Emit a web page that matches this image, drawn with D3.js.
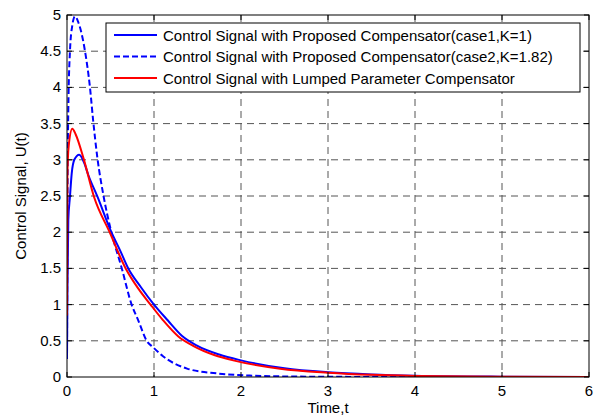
<!DOCTYPE html>
<html>
<head>
<meta charset="utf-8">
<script src="https://cdn.jsdelivr.net/npm/d3@7"></script>
<style>
  body { margin: 0; background: #fff; }
  svg { display: block; font-family: Arial, "Liberation Sans", sans-serif; }
</style>
</head>
<body>
<div id="chart"></div>
<script>

// ---- data ----
var xTicks = [0, 1, 2, 3, 4, 5, 6];
var yTicks = [0, 0.5, 1, 1.5, 2, 2.5, 3, 3.5, 4, 4.5, 5];

var case1Time  = [0, 0.005, 0.015, 0.034, 0.054, 0.084, 0.14, 0.2, 0.245, 0.35, 0.51, 0.61, 0.7, 0.85, 1.0, 1.16, 1.32, 1.5, 1.75, 2.0, 2.5, 3.0, 3.5, 4.0, 5.0, 6.0];
var case1Value = [0.25, 1.2, 2.17, 2.49, 2.81, 3.0, 3.07, 2.95, 2.79, 2.49, 2.0, 1.75, 1.51, 1.24, 1.0, 0.78, 0.57, 0.43, 0.31, 0.23, 0.12, 0.065, 0.035, 0.018, 0.005, 0.001];

var case2Time  = [0, 0.006, 0.015, 0.034, 0.06, 0.092, 0.13, 0.207, 0.264, 0.3, 0.35, 0.42, 0.51, 0.63, 0.74, 0.82, 0.916, 0.99, 1.1, 1.38, 1.72, 2.1, 2.5, 3.0, 4.0, 6.0];
var case2Value = [0.3, 2.5, 3.69, 4.5, 4.85, 4.98, 4.9, 4.5, 4.0, 3.55, 3.02, 2.5, 2.0, 1.5, 1.01, 0.78, 0.5, 0.41, 0.29, 0.116, 0.05, 0.02, 0.008, 0.003, 0.0, 0.0];

var lumpedTime  = [0, 0.004, 0.02, 0.061, 0.1, 0.19, 0.31, 0.49, 0.67, 0.82, 0.96, 1.1, 1.28, 1.45, 1.7, 1.91, 2.45, 3.0, 3.5, 4.0, 5.0, 6.0];
var lumpedValue = [0.85, 2.77, 3.2, 3.43, 3.35, 3.02, 2.49, 2.0, 1.51, 1.22, 1.0, 0.79, 0.56, 0.43, 0.3, 0.23, 0.115, 0.06, 0.03, 0.015, 0.004, 0.001];

var seriesNames = [
	"Control Signal with Proposed Compensator(case1,K=1)",
	"Control Signal with Proposed Compensator(case2,K=1.82)",
	"Control Signal with Lumped Parameter Compensator"
];

// ---- layout ----
var width = 600, height = 418;
var margin = {left: 67, right: 11, top: 15, bottom: 41};
var pw = width - margin.left - margin.right;
var ph = height - margin.top - margin.bottom;

var x = d3.scaleLinear().domain([0, 6]).range([0, pw]);
var y = d3.scaleLinear().domain([0, 5]).range([ph, 0]);

var svg = d3.select("#chart").append("svg")
	.attr("width", width).attr("height", height);

var g = svg.append("g")
	.attr("transform", "translate(" + margin.left + "," + margin.top + ")");

g.append("clipPath").attr("id", "clip")
	.append("rect").attr("width", pw).attr("height", ph);

// grid
g.append("g").selectAll("line").data(xTicks.slice(1, -1)).enter().append("line")
	.attr("x1", x).attr("x2", x).attr("y1", 0).attr("y2", ph)
	.attr("stroke", "#555").attr("stroke-dasharray", "7,5");
g.append("g").selectAll("line").data(yTicks.slice(1, -1)).enter().append("line")
	.attr("y1", y).attr("y2", y).attr("x1", 0).attr("x2", pw)
	.attr("stroke", "#555").attr("stroke-dasharray", "7,5");

// curves
function zipSeries(ts, vs) {
	return ts.map(function(t, i){ return {t: t, v: vs[i]}; });
}
var line = d3.line()
	.x(function(d){ return x(d.t); })
	.y(function(d){ return y(d.v); })
	.curve(d3.curveMonotoneX);

var series = [
	{data: zipSeries(case1Time, case1Value), color: "#0000ff", dash: null},
	{data: zipSeries(case2Time, case2Value), color: "#0000ff", dash: "6,3"},
	{data: zipSeries(lumpedTime, lumpedValue), color: "#ff0000", dash: null}
];

g.append("g").attr("clip-path", "url(#clip)")
	.selectAll("path").data(series).enter().append("path")
	.attr("d", function(d){ return line(d.data); })
	.attr("fill", "none")
	.attr("stroke", function(d){ return d.color; })
	.attr("stroke-width", 2)
	.attr("stroke-dasharray", function(d){ return d.dash; });

// axes (inward ticks on every side)
var ax = g.append("g").attr("class", "axes");
ax.append("rect").attr("width", pw).attr("height", ph)
	.attr("fill", "none").attr("stroke", "#000").attr("stroke-width", 1);

xTicks.forEach(function(t){
	ax.append("line").attr("x1", x(t)).attr("x2", x(t)).attr("y1", ph).attr("y2", ph - 5).attr("stroke", "#000");
	ax.append("line").attr("x1", x(t)).attr("x2", x(t)).attr("y1", 0).attr("y2", 5).attr("stroke", "#000");
	ax.append("text").attr("x", x(t)).attr("y", ph + 19)
		.attr("text-anchor", "middle").attr("font-size", 15).text(t);
});
yTicks.forEach(function(v){
	ax.append("line").attr("y1", y(v)).attr("y2", y(v)).attr("x1", 0).attr("x2", 5).attr("stroke", "#000");
	ax.append("line").attr("y1", y(v)).attr("y2", y(v)).attr("x1", pw).attr("x2", pw - 5).attr("stroke", "#000");
	ax.append("text").attr("x", -6).attr("y", y(v) + 5)
		.attr("text-anchor", "end").attr("font-size", 15).text(v);
});

svg.append("text").attr("x", margin.left + pw / 2).attr("y", 413)
	.attr("text-anchor", "middle").attr("font-size", 15).text("Time,t");
svg.append("text")
	.attr("transform", "translate(26," + (margin.top + ph / 2) + ") rotate(-90)")
	.attr("text-anchor", "middle").attr("font-size", 15).text("Control Signal, U(t)");

// legend
var lg = svg.append("g").attr("transform", "translate(106,23)");
lg.append("rect").attr("width", 474).attr("height", 69)
	.attr("fill", "#fff").attr("stroke", "#000");
var rows = lg.selectAll("g.row").data(series).enter().append("g")
	.attr("transform", function(d, i){ return "translate(0," + (12 + i * 21.5) + ")"; });
rows.append("line").attr("x1", 8).attr("x2", 51).attr("y1", 0).attr("y2", 0)
	.attr("stroke", function(d){ return d.color; })
	.attr("stroke-width", 2)
	.attr("stroke-dasharray", function(d){ return d.dash; });
rows.append("text").attr("x", 57).attr("y", 5.5).attr("font-size", 15)
	.text(function(d, i){ return seriesNames[i]; });

</script>
</body>
</html>
